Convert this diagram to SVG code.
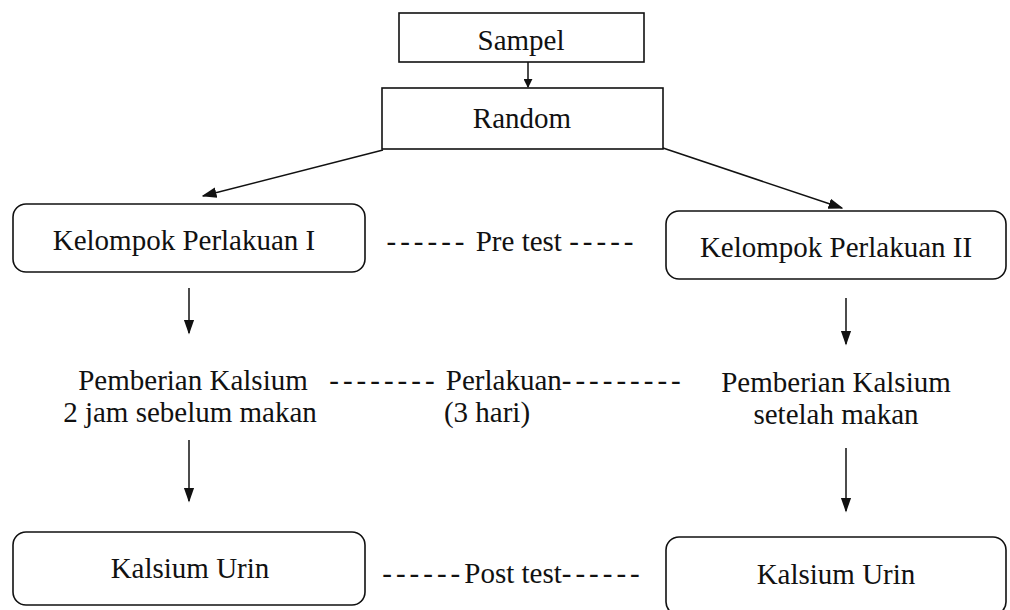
<svg xmlns="http://www.w3.org/2000/svg" width="1010" height="610" viewBox="0 0 1010 610">
<defs>
<style>
text{font-size:29px;fill:#111;}
.m{text-anchor:middle;}
.box{fill:#fff;stroke:#111;stroke-width:1.6;}
.ln{stroke:#111;stroke-width:1.5;fill:none;}
.dash{letter-spacing:4px;}
</style>
<marker id="ah" viewBox="0 0 10 10" refX="9" refY="5" markerWidth="9" markerHeight="9" orient="auto" markerUnits="userSpaceOnUse">
<path d="M0,0 L10,5 L0,10 z" fill="#111"/>
</marker>
<marker id="ahb" viewBox="0 0 10 10" refX="9" refY="5" markerWidth="15" markerHeight="15" orient="auto" markerUnits="userSpaceOnUse">
<path d="M0,1.5 L10,5 L0,8.5 z" fill="#111"/>
</marker>
</defs>
<rect width="1010" height="610" fill="#fff"/>
<g id="connectors">
<line class="ln" x1="528" y1="62" x2="528" y2="87" marker-end="url(#ah)"/>
<line class="ln" x1="383" y1="150" x2="203" y2="196" marker-end="url(#ahb)"/>
<line class="ln" x1="663" y1="148" x2="842" y2="208" marker-end="url(#ahb)"/>
<line class="ln" x1="189" y1="288" x2="189" y2="333" marker-end="url(#ahb)"/>
<line class="ln" x1="846" y1="298" x2="846" y2="344" marker-end="url(#ahb)"/>
<line class="ln" x1="189" y1="440" x2="189" y2="501" marker-end="url(#ahb)"/>
<line class="ln" x1="846" y1="448" x2="846" y2="511" marker-end="url(#ahb)"/>
</g>
<g font-family="Liberation Serif, DejaVu Serif, serif">
<g id="sampel">
<rect class="box" x="399" y="13" width="245" height="49"/>
<text class="m" x="521" y="50">Sampel</text>
</g>
<g id="random">
<rect class="box" x="382" y="88" width="281" height="61"/>
<text class="m" x="522" y="128">Random</text>
</g>
<g id="kelompok1">
<rect class="box" x="13" y="204" width="352" height="68" rx="13"/>
<text class="m" x="184" y="250">Kelompok Perlakuan I</text>
</g>
<g id="kelompok2">
<rect class="box" x="666" y="211" width="340" height="68" rx="13"/>
<text class="m" x="836" y="257">Kelompok Perlakuan II</text>
</g>
<g id="pretest">
<text class="m" x="512" y="251"><tspan class="dash">------</tspan> Pre test <tspan class="dash">-----</tspan></text>
</g>
<g id="pemberian1">
<text class="m" x="193" y="390">Pemberian Kalsium</text>
<text class="m" x="190" y="422">2 jam sebelum makan</text>
</g>
<g id="perlakuan">
<text class="m" x="507" y="390"><tspan class="dash">--------</tspan> Perlakuan<tspan class="dash">---------</tspan></text>
<text class="m" x="487" y="422">(3 hari)</text>
</g>
<g id="pemberian2">
<text class="m" x="836" y="392">Pemberian Kalsium</text>
<text class="m" x="836" y="424">setelah makan</text>
</g>
<g id="urin1">
<rect class="box" x="13" y="532" width="352" height="73" rx="13"/>
<text class="m" x="190" y="578">Kalsium Urin</text>
</g>
<g id="urin2">
<rect class="box" x="666" y="537" width="340" height="78" rx="13"/>
<text class="m" x="836" y="584">Kalsium Urin</text>
</g>
<g id="posttest">
<text class="m" x="513" y="583"><tspan class="dash">------</tspan>Post test<tspan class="dash">------</tspan></text>
</g>
</g>
</svg>
